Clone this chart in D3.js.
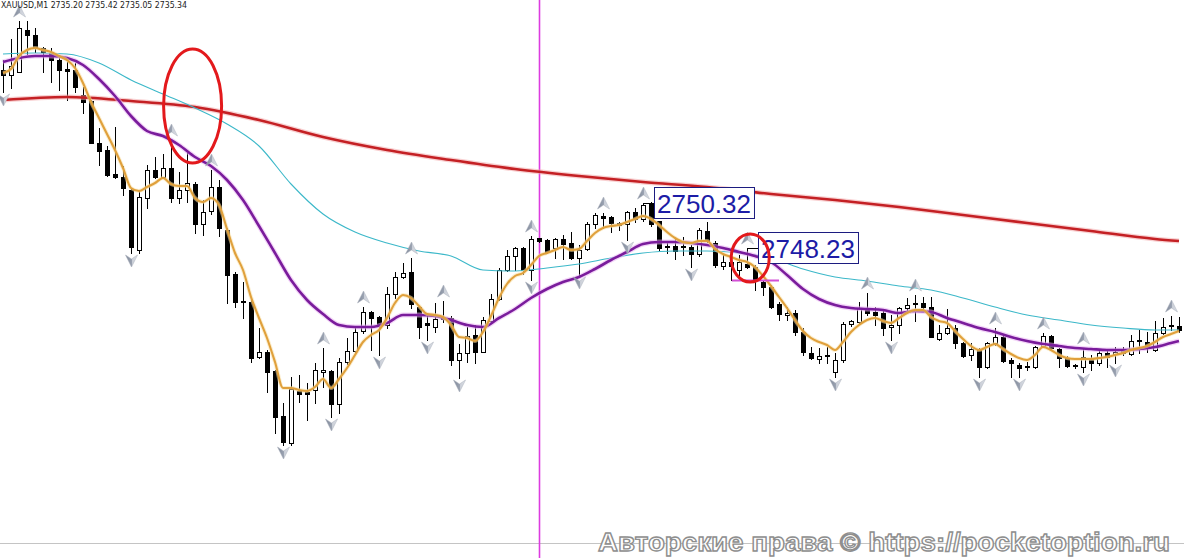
<!DOCTYPE html>
<html><head><meta charset="utf-8">
<script src="https://cdn.jsdelivr.net/npm/d3@7"></script>
<style>html,body{margin:0;padding:0;background:#fff;overflow:hidden}</style>
</head><body>
<svg id="chart" width="1184" height="558"></svg>
<script>
const headerText = "XAUUSD,M1  2735.20 2735.42 2735.05 2735.34";
const watermarkText = "Авторские права © https://pocketoption.ru";

const open = [2756.50,2756.25,2756.40,2758.50,2758.25,2757.60,2757.35,2757.00,2756.55,2756.50,
2755.25,2754.95,2752.85,2752.50,2751.30,2751.15,2750.50,2747.50,2750.10,2751.50,
2751.15,2751.60,2750.10,2750.50,2750.80,2748.80,2749.45,2750.65,2748.50,2746.30,
2744.95,2744.90,2742.15,2742.40,2741.45,2739.20,2737.85,2740.45,2740.40,2740.50,
2741.40,2741.45,2739.80,2741.90,2742.45,2743.45,2744.40,2744.15,2743.75,2745.30,
2746.15,2746.40,2744.65,2743.85,2743.65,2744.15,2744.10,2742.00,2742.35,2743.25,
2742.40,2743.95,2745.05,2746.50,2747.20,2747.60,2746.50,2748.10,2748.00,2747.60,
2748.05,2747.85,2747.10,2747.55,2748.80,2749.20,2749.15,2748.85,2748.80,2749.40,
2749.05,2749.80,2748.95,2747.70,2747.70,2747.70,2747.65,2747.30,2748.45,2747.85,
2746.70,2746.90,2746.50,2746.80,2746.65,2745.90,2745.65,2744.80,2744.25,2744.35,
2743.40,2742.35,2742.05,2742.25,2741.40,2742.00,2743.80,2743.90,2744.60,2744.40,
2744.35,2743.65,2743.75,2744.60,2744.85,2744.85,2744.65,2743.05,2743.35,2743.60,
2742.85,2742.25,2742.50,2741.65,2742.85,2743.15,2742.00,2741.75,2741.70,2741.65,
2742.70,2743.20,2742.55,2742.10,2741.75,2741.65,2742.00,2741.85,2742.35,2742.30,
2742.45,2742.30,2743.00,2742.90,2742.50,2743.35,2743.75,2743.70];

const high = [2757.00,2758.05,2758.95,2758.95,2758.60,2757.65,2757.60,2757.15,2756.90,2756.85,
2755.65,2755.00,2753.60,2752.70,2753.65,2751.70,2750.60,2750.50,2751.75,2752.15,
2752.30,2753.00,2751.40,2752.35,2750.90,2750.00,2751.50,2751.00,2748.60,2746.40,
2745.90,2745.00,2743.60,2742.50,2741.50,2739.85,2741.15,2741.25,2740.85,2741.85,
2742.60,2741.50,2742.10,2743.10,2743.65,2744.65,2744.45,2744.20,2745.65,2746.40,
2746.85,2747.10,2744.70,2744.35,2744.85,2744.95,2744.20,2742.80,2743.65,2743.75,
2744.15,2745.30,2746.60,2747.50,2747.65,2747.65,2748.20,2748.10,2748.05,2748.10,
2748.25,2748.40,2747.75,2748.90,2749.35,2749.35,2749.20,2748.90,2749.45,2749.60,
2749.85,2749.90,2748.95,2747.90,2748.10,2748.15,2747.75,2748.60,2748.90,2747.95,
2747.25,2747.60,2747.25,2747.60,2746.75,2746.00,2745.75,2744.90,2744.65,2744.50,
2743.60,2742.65,2742.60,2742.65,2742.35,2743.90,2744.00,2744.90,2745.35,2744.65,
2744.50,2744.25,2744.65,2745.10,2745.25,2745.15,2745.15,2743.75,2744.55,2743.75,
2742.90,2742.85,2742.60,2742.90,2743.60,2743.20,2742.10,2741.85,2741.90,2742.70,
2743.35,2743.25,2742.60,2742.20,2741.80,2742.60,2742.25,2742.50,2742.50,2742.65,
2742.65,2743.25,2743.50,2743.40,2743.95,2744.10,2744.20,2744.15];

const low = [2755.40,2755.60,2756.40,2757.30,2757.40,2756.40,2755.90,2755.50,2755.00,2755.40,
2754.35,2752.85,2751.75,2751.20,2751.10,2750.25,2747.35,2747.35,2749.60,2751.10,
2751.10,2749.90,2749.85,2749.90,2748.35,2748.25,2749.30,2748.20,2744.85,2744.65,
2744.10,2741.90,2742.10,2740.40,2738.35,2737.75,2737.75,2739.90,2739.00,2739.85,
2740.65,2739.15,2739.35,2741.80,2742.35,2743.35,2742.50,2742.25,2743.60,2745.10,
2746.10,2744.60,2743.10,2743.00,2743.40,2743.90,2741.75,2741.10,2741.90,2741.85,
2742.40,2743.90,2745.00,2746.45,2746.50,2746.30,2746.00,2747.90,2747.35,2747.10,
2747.05,2747.05,2746.25,2747.50,2748.60,2748.60,2748.40,2748.50,2748.00,2748.90,
2748.95,2748.70,2747.50,2747.35,2747.05,2747.25,2746.65,2747.20,2747.90,2746.65,
2746.55,2746.00,2746.15,2746.60,2745.50,2745.25,2744.60,2744.00,2744.00,2743.25,
2742.25,2742.05,2741.85,2741.85,2741.15,2741.90,2743.70,2743.85,2744.25,2743.75,
2743.25,2743.00,2743.35,2744.50,2743.95,2744.55,2743.15,2743.00,2743.30,2742.60,
2742.15,2742.00,2741.15,2741.60,2742.75,2741.90,2741.15,2741.15,2741.50,2741.60,
2742.65,2742.50,2741.65,2741.65,2741.60,2741.40,2741.50,2741.75,2741.65,2741.85,
2742.25,2742.25,2742.35,2742.40,2742.45,2743.30,2743.50,2743.40];

const close = [2756.25,2756.70,2758.60,2758.25,2757.60,2757.40,2757.00,2756.50,2756.45,2755.65,
2754.90,2752.85,2752.45,2751.25,2751.15,2750.60,2747.65,2750.15,2751.50,2751.15,
2751.60,2750.10,2750.50,2750.85,2748.80,2749.40,2750.65,2748.60,2746.25,2744.90,
2744.90,2742.10,2742.40,2741.40,2739.15,2737.90,2740.55,2740.30,2740.30,2741.50,
2741.50,2739.80,2741.90,2742.45,2743.40,2744.40,2744.10,2743.75,2745.30,2746.15,
2746.35,2744.80,2743.65,2743.75,2744.05,2744.05,2742.00,2742.35,2743.20,2742.40,
2744.00,2745.05,2746.50,2747.20,2747.60,2746.50,2748.05,2747.95,2747.40,2748.05,
2747.80,2747.10,2747.50,2748.80,2749.25,2749.10,2748.85,2748.75,2749.40,2749.05,
2749.75,2748.80,2747.60,2747.65,2747.45,2747.65,2747.30,2748.50,2747.95,2746.75,
2746.90,2746.70,2746.90,2746.65,2746.00,2745.65,2744.65,2744.30,2744.35,2743.40,
2742.40,2742.10,2742.20,2742.20,2742.00,2743.80,2743.95,2744.60,2744.35,2744.25,
2743.60,2743.75,2744.60,2744.75,2744.80,2744.65,2743.15,2743.35,2743.60,2742.85,
2742.20,2742.55,2741.65,2742.85,2743.15,2741.95,2741.85,2741.60,2741.65,2742.65,
2743.20,2742.60,2742.10,2741.70,2741.70,2742.15,2741.85,2742.35,2742.15,2742.40,
2742.35,2742.95,2742.95,2742.60,2743.35,2743.65,2743.70,2743.50];

// fast MA (orange), one value per bar
const maFast = [2756.35,2756.55,2757.20,2757.50,2757.60,2757.50,2757.40,2757.20,2757.00,2756.60,
2755.85,2754.90,2754.10,2753.30,2752.50,2751.60,2750.60,2750.45,2750.65,2750.85,
2751.10,2750.80,2750.70,2750.70,2750.10,2749.90,2750.10,2749.75,2748.55,2747.35,
2746.50,2745.15,2744.10,2743.10,2741.90,2740.60,2740.60,2740.50,2740.45,2740.65,
2741.05,2740.60,2741.05,2741.60,2742.25,2742.90,2743.25,2743.50,2744.10,2744.85,
2745.25,2745.10,2744.70,2744.30,2744.25,2744.15,2743.75,2743.15,2743.10,2742.95,
2743.40,2744.20,2745.10,2745.80,2746.20,2746.35,2746.75,2747.20,2747.35,2747.50,
2747.65,2747.50,2747.55,2747.95,2748.35,2748.60,2748.70,2748.75,2748.90,2749.05,
2749.20,2749.05,2748.75,2748.40,2748.10,2747.90,2747.85,2747.95,2747.95,2747.55,
2747.30,2747.15,2747.00,2746.90,2746.65,2746.20,2745.70,2745.15,2744.60,2744.00,
2743.45,2743.10,2742.90,2742.75,2742.50,2742.90,2743.40,2743.75,2744.00,2744.10,
2743.95,2743.85,2744.10,2744.35,2744.50,2744.50,2744.15,2743.95,2743.85,2743.45,
2743.05,2742.70,2742.50,2742.65,2742.80,2742.55,2742.30,2742.10,2742.00,2742.25,
2742.65,2742.50,2742.25,2742.10,2742.05,2742.05,2742.05,2742.10,2742.15,2742.25,
2742.35,2742.50,2742.60,2742.70,2742.90,2743.15,2743.30,2743.45];

// medium MA (purple), every 2 bars, last value at the last bar
const maMidStep = 2;
const maMid = [2756.90,2757.10,2757.20,2757.20,2757.10,2756.75,2756.05,2755.20,2754.20,2753.45,
2753.20,2752.75,2752.15,2751.70,2751.00,2750.00,2748.70,2747.35,2746.00,2745.00,
2744.30,2743.75,2743.65,2743.65,2743.85,2744.25,2744.25,2744.20,2744.00,2743.75,
2743.65,2744.10,2744.55,2745.10,2745.55,2745.90,2746.15,2746.55,2747.00,2747.40,
2747.80,2747.90,2747.90,2747.85,2747.75,2747.60,2747.40,2747.20,2746.90,2746.25,
2745.55,2745.05,2744.75,2744.60,2744.55,2744.50,2744.35,2744.45,2744.40,2744.10,
2743.85,2743.60,2743.40,2743.15,2742.95,2742.80,2742.70,2742.60,2742.55,2742.50,
2742.50,2742.55,2742.65,2742.85,2742.95];

// slow MA (cyan), every 4 bars
const maSlowStep = 4;
const maSlow = [2757.30,2757.35,2757.30,2756.85,2756.00,2755.30,2754.60,2753.80,2752.70,2750.80,
2749.30,2748.40,2747.85,2747.45,2747.20,2746.50,2746.45,2746.60,2746.80,2747.10,
2747.35,2747.45,2747.45,2747.35,2747.10,2746.55,2746.15,2745.95,2745.70,2745.50,
2745.10,2744.65,2744.25,2744.00,2743.75,2743.60,2743.50,2743.50];

// long MA (red), every 8 bars
const maLongStep = 8;
const maLong = [2755.00,2755.15,2754.95,2754.65,2754.00,2753.15,2752.50,2752.00,2751.55,2751.20,
2750.90,2750.65,2750.30,2750.00,2749.65,2749.25,2748.85,2748.45,2748.05,2747.95];

const fractalUp = [2,21,26,40,45,51,55,66,75,80,93,108,114,124,130,135,146];
const fractalDown = [0,16,35,41,47,53,57,66,72,78,86,104,111,122,127,135,139];

const labelBars = [80, 93];
const labelTexts = ["2750.32", "2748.23"];

const separatorBar = 67;
const levelFrom = 91.1, levelTo = 97, levelPrice = 2746.00;

const ellipseBars = [23.7, 93.4];
const ellipsePrices = [2754.70, 2747.10];
const ellipseRx = [29, 19];
const ellipseRy = [57, 24];

const W = 1184, H = 558;
const svg = d3.select("#chart");
const nBars = open.length;
const x = d3.scaleLinear().domain([0, nBars - 1]).range([3, 1179]);
const y = d3.scaleLinear().domain([2760, 2760 - H / 20]).range([0, H]);

svg.append("rect").attr("width", W).attr("height", H).attr("fill", "#fff");

// bottom border line
svg.append("line").attr("x1", 0).attr("x2", W).attr("y1", 543.5).attr("y2", 543.5)
  .attr("stroke", "#c4c4c4").attr("stroke-width", 1);

// period separator
svg.append("line").attr("x1", x(separatorBar) + 0.5).attr("x2", x(separatorBar) + 0.5)
  .attr("y1", 0).attr("y2", H).attr("stroke", "#dc3ce0").attr("stroke-width", 1.6);

const bars = d3.range(nBars).map(i => ({ i, o: open[i], h: high[i], l: low[i], c: close[i] }));
const gc = svg.append("g").attr("shape-rendering", "crispEdges");
gc.selectAll("line.wick").data(bars).join("line").attr("class", "wick")
  .attr("x1", d => x(d.i) + 0.5).attr("x2", d => x(d.i) + 0.5)
  .attr("y1", d => y(d.h)).attr("y2", d => y(d.l) + 1)
  .attr("stroke", "#000").attr("stroke-width", 1);
gc.selectAll("rect.bear").data(bars.filter(d => d.c <= d.o)).join("rect").attr("class", "bear")
  .attr("x", d => x(d.i) - 2).attr("width", 5)
  .attr("y", d => y(d.o)).attr("height", d => Math.max(2, y(d.c) - y(d.o) + 1))
  .attr("fill", "#000");
gc.selectAll("rect.bull").data(bars.filter(d => d.c > d.o)).join("rect").attr("class", "bull")
  .attr("x", d => x(d.i) - 1.5).attr("width", 4)
  .attr("y", d => y(d.c) + 0.5).attr("height", d => Math.max(1, y(d.o) - y(d.c)))
  .attr("fill", "#fff").attr("stroke", "#000").attr("stroke-width", 1);

function stepped(vals, step) {
  return vals.map((v, k) => ({ b: Math.min(k * step, nBars - 1), v }));
}
const lineGen = d3.line().x(d => x(d.b)).y(d => y(d.v)).curve(d3.curveMonotoneX);
function drawMA(pts, color, width, halo, haloWidth) {
  if (halo) svg.append("path").attr("d", lineGen(pts)).attr("fill", "none")
    .attr("stroke", halo).attr("stroke-width", haloWidth).attr("stroke-linejoin", "round").attr("opacity", 0.55);
  svg.append("path").attr("d", lineGen(pts)).attr("fill", "none")
    .attr("stroke", color).attr("stroke-width", width).attr("stroke-linejoin", "round");
}
drawMA(stepped(maLong, maLongStep), "#c42024", 2.6, "#f3a9ac", 5);
drawMA(stepped(maSlow, maSlowStep), "#3cb8c9", 1.1, null, 0);
drawMA(stepped(maMid, maMidStep), "#7a1c9c", 2.6, "#e9b3f2", 5);
drawMA(stepped(maFast, 1), "#e0a03c", 2.1, "#f7e0a6", 4);

// magenta level segment
svg.append("line").attr("x1", x(levelFrom)).attr("x2", x(levelTo))
  .attr("y1", y(levelPrice) + 0.5).attr("y2", y(levelPrice) + 0.5)
  .attr("stroke", "#d24fd6").attr("stroke-width", 2);

// fractal arrows
const defs = svg.append("defs");
const grad = defs.append("linearGradient").attr("id", "fg").attr("x1", 0).attr("x2", 1).attr("y1", 0).attr("y2", 0);
grad.append("stop").attr("offset", "0%").attr("stop-color", "#7f8898");
grad.append("stop").attr("offset", "50%").attr("stop-color", "#9aa2b1");
grad.append("stop").attr("offset", "51%").attr("stop-color", "#c7ccd5");
grad.append("stop").attr("offset", "100%").attr("stop-color", "#dfe2e8");
svg.selectAll("path.fu").data(fractalUp).join("path").attr("class", "fu")
  .attr("transform", i => `translate(${x(i) + 0.5},${y(high[i]) - 10})`)
  .attr("d", "M0,-6 L6,6 L0,2 L-6,6 Z").attr("fill", "url(#fg)").attr("stroke", "#a8afbb").attr("stroke-width", 0.5);
svg.selectAll("path.fd").data(fractalDown).join("path").attr("class", "fd")
  .attr("transform", i => `translate(${x(i) + 0.5},${y(low[i]) + 8})`)
  .attr("d", "M0,6 L6,-6 L0,-2 L-6,-6 Z").attr("fill", "url(#fg)").attr("stroke", "#a8afbb").attr("stroke-width", 0.5);

// price labels
labelBars.forEach((b, k) => {
  const py = y(high[b]);
  const bx = x(b) + 11;
  svg.append("line").attr("x1", x(b) + 1).attr("x2", bx).attr("y1", py + 0.5).attr("y2", py + 0.5)
    .attr("stroke", "#000").attr("stroke-width", 1);
  const g = svg.append("g");
  const t = g.append("text").attr("x", bx + 3).attr("y", py + 10)
    .attr("font-family", "'Liberation Sans', Arial, sans-serif").attr("font-size", 26)
    .attr("fill", "#1c1ca6").text(labelTexts[k]);
  const w = t.node().getComputedTextLength();
  g.insert("rect", "text").attr("x", bx + 0.5).attr("y", py - 15.5).attr("width", w + 6).attr("height", 31)
    .attr("fill", "#fff").attr("stroke", "#1c1c80").attr("stroke-width", 1);
});

// annotation ellipses
ellipseBars.forEach((b, k) => {
  svg.append("ellipse").attr("cx", x(b)).attr("cy", y(ellipsePrices[k]))
    .attr("rx", ellipseRx[k]).attr("ry", ellipseRy[k])
    .attr("fill", "none").attr("stroke", "#e3191c").attr("stroke-width", 3);
});

// header
svg.append("text").attr("x", 1).attr("y", 8)
  .attr("font-family", "Tahoma, 'DejaVu Sans', sans-serif").attr("font-size", 8.5).attr("fill", "#222")
  .attr("textLength", 186).attr("lengthAdjust", "spacingAndGlyphs")
  .text(headerText);

// watermark
svg.append("text").attr("x", 598).attr("y", 551)
  .attr("font-family", "'Liberation Sans', Arial, sans-serif").attr("font-weight", "bold").attr("font-size", 25)
  .attr("textLength", 572).attr("lengthAdjust", "spacingAndGlyphs")
  .attr("fill", "#fff").attr("stroke", "#8e8e8e").attr("stroke-width", 1.3)
  .text(watermarkText);
</script>
</body></html>
